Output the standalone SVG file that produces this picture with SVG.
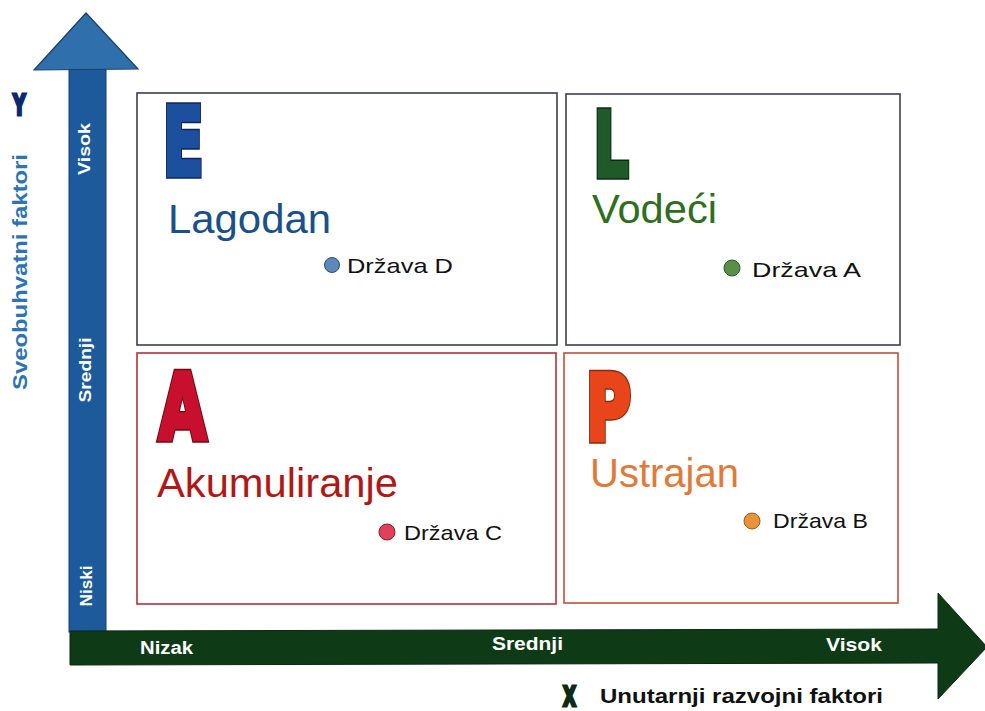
<svg xmlns="http://www.w3.org/2000/svg" width="985" height="711" viewBox="0 0 985 711">
<style>
.ax{font-family:"Liberation Sans",Arial,sans-serif;font-weight:bold;fill:#fff}
.big{font-family:"DejaVu Sans","Liberation Sans",sans-serif;font-weight:bold;stroke-linejoin:miter}
.o{stroke-width:8}
.f{stroke-width:5}
.ttl{font-family:"Liberation Sans",Arial,sans-serif;font-size:40px}
.st{font-family:"Liberation Sans",Arial,sans-serif;font-size:21px;fill:#111}
.box{fill:#fff;stroke-width:1.6}
</style>
<rect width="985" height="711" fill="#fff"/>
<g id="connectors">
  <g id="y-axis">
    <rect x="69" y="68" width="37" height="564" fill="#1d5a9c" stroke="#163f70" stroke-width="1"/>
    <polygon points="86,13 34,70 138,69" fill="#2f6fab" stroke="#1a3f6a" stroke-width="1.2"/>
  </g>
  <g id="x-axis">
    <polygon points="70,631 938,629 938,593 987,647 938,699 938,663 70,665" fill="#0f3a16" stroke="#0a2a10" stroke-width="1"/>
  </g>
</g>
<g id="axis-labels">
  <text class="ax" font-size="17" transform="translate(90,149) rotate(-90)" text-anchor="middle" textLength="52" lengthAdjust="spacingAndGlyphs">Visok</text>
  <text class="ax" font-size="17" transform="translate(91,370) rotate(-90)" text-anchor="middle" textLength="65" lengthAdjust="spacingAndGlyphs">Srednji</text>
  <text class="ax" font-size="17" transform="translate(92,586) rotate(-90)" text-anchor="middle" textLength="41" lengthAdjust="spacingAndGlyphs">Niski</text>
  <text class="ax" font-size="18" x="140" y="654" textLength="53" lengthAdjust="spacingAndGlyphs">Nizak</text>
  <text class="ax" font-size="19" x="492" y="650" textLength="71" lengthAdjust="spacingAndGlyphs">Srednji</text>
  <text class="ax" font-size="19" x="826" y="651" textLength="56" lengthAdjust="spacingAndGlyphs">Visok</text>
  <text font-family="DejaVu Sans, sans-serif" font-weight="bold" font-size="29" fill="#0b2a6e" stroke="#0b2a6e" stroke-width="3" transform="translate(13,115) scale(0.6,1)">Y</text>
  <text font-family="Liberation Sans, Arial, sans-serif" font-weight="bold" font-size="21" fill="#2e74b5" transform="translate(27,272) rotate(-90)" text-anchor="middle" textLength="236" lengthAdjust="spacingAndGlyphs">Sveobuhvatni faktori</text>
  <text font-family="DejaVu Sans, sans-serif" font-weight="bold" font-size="26" fill="#0f2a14" stroke="#0f2a14" stroke-width="3" transform="translate(563,706) scale(0.65,1)">X</text>
  <text font-family="Liberation Sans, Arial, sans-serif" font-weight="bold" font-size="20" fill="#111" x="600" y="703" textLength="283" lengthAdjust="spacingAndGlyphs">Unutarnji razvojni faktori</text>
</g>
<g id="quadrant-E">
  <rect class="box" x="137" y="93" width="420" height="252" stroke="#3a3f55"/>
  <g transform="translate(163,175) scale(0.6,0.95)">
    <text class="big o" font-size="99" fill="#0c2458" stroke="#0c2458">E</text>
    <text class="big f" font-size="99" fill="#1c4f9e" stroke="#1c4f9e">E</text>
  </g>
  <text class="ttl" fill="#1a4f8a" x="168" y="233" textLength="163" lengthAdjust="spacingAndGlyphs">Lagodan</text>
  <circle cx="332" cy="265" r="7.5" fill="#5b8ab8" stroke="#2a4a70" stroke-width="1"/>
  <text class="st" x="347" y="273" textLength="106" lengthAdjust="spacingAndGlyphs">Država D</text>
</g>
<g id="quadrant-L">
  <rect class="box" x="566" y="94" width="334" height="251" stroke="#3a3f55"/>
  <g transform="translate(594,176) scale(0.58,0.95)">
    <text class="big o" font-size="93" fill="#0c2a12" stroke="#0c2a12">L</text>
    <text class="big f" font-size="93" fill="#1e5a2a" stroke="#1e5a2a">L</text>
  </g>
  <text class="ttl" fill="#2e6e1e" x="592" y="223" textLength="125" lengthAdjust="spacingAndGlyphs">Vodeći</text>
  <circle cx="732" cy="268" r="8" fill="#5a8f4a" stroke="#2f5a26" stroke-width="1"/>
  <text class="st" x="752" y="277" textLength="109" lengthAdjust="spacingAndGlyphs">Država A</text>
</g>
<g id="quadrant-A">
  <rect class="box" x="137" y="353" width="419" height="251" stroke="#b0343a"/>
  <g transform="translate(159,439) scale(0.64,0.95)">
    <text class="big o" font-size="95" fill="#6a0a14" stroke="#6a0a14">A</text>
    <text class="big f" font-size="95" fill="#c8102e" stroke="#c8102e">A</text>
  </g>
  <text class="ttl" fill="#b01818" x="157" y="497" font-size="41" textLength="241" lengthAdjust="spacingAndGlyphs">Akumuliranje</text>
  <circle cx="387" cy="532" r="8" fill="#e0405a" stroke="#8a1a2a" stroke-width="1"/>
  <text class="st" x="404" y="540" textLength="98" lengthAdjust="spacingAndGlyphs">Država C</text>
</g>
<g id="quadrant-P">
  <rect class="box" x="564" y="353" width="334" height="250" stroke="#c0503a"/>
  <g transform="translate(586,440) scale(0.64,0.95)">
    <text class="big o" font-size="96" fill="#8a2a10" stroke="#8a2a10">P</text>
    <text class="big f" font-size="96" fill="#e8461a" stroke="#e8461a">P</text>
  </g>
  <text class="ttl" fill="#e07a3a" x="590" y="487" textLength="149" lengthAdjust="spacingAndGlyphs">Ustrajan</text>
  <circle cx="752" cy="521" r="8" fill="#e8923a" stroke="#a05a20" stroke-width="1"/>
  <text class="st" x="773" y="528" textLength="95" lengthAdjust="spacingAndGlyphs">Država B</text>
</g>
</svg>
